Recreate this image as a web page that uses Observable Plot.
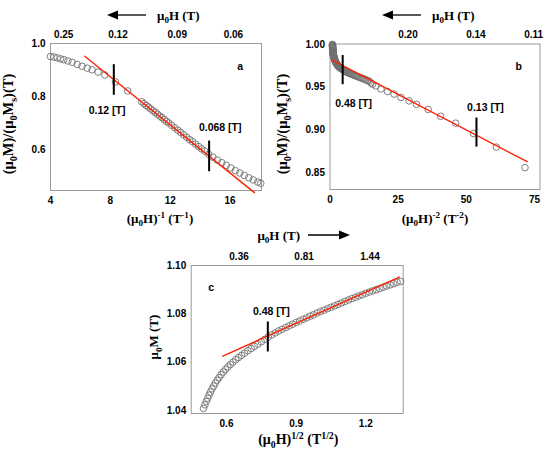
<!DOCTYPE html>
<html>
<head>
<meta charset="utf-8">
<script src="https://cdn.jsdelivr.net/npm/d3@7"></script>
<script src="https://cdn.jsdelivr.net/npm/@observablehq/plot@0.6"></script>
<style>
  html, body { margin: 0; padding: 0; background: white; }
  #wrap { position: relative; width: 550px; height: 454px; background: white; overflow: hidden; }
  #wrap svg { position: absolute; overflow: visible; background: transparent; }
</style>
</head>
<body>
<div id="wrap"></div>
<script>
// ---------- Panel a : M/Ms vs 1/H ----------
const aX = [4.0, 4.23, 4.45, 4.67, 4.89, 5.16, 5.45, 5.78, 6.11, 6.45, 6.78, 7.18, 7.63, 8.34, 9.16,
  10.1, 10.25, 10.4, 10.55, 10.7, 10.85, 11.0, 11.15, 11.3, 11.45, 11.6, 11.75, 11.9, 12.1, 12.3, 12.5,
  12.7, 12.9, 13.1, 13.3, 13.5, 13.7, 13.9, 14.1, 14.3, 14.56, 14.85, 15.15, 15.45, 15.75, 16.05, 16.35,
  16.65, 16.95, 17.25, 17.55, 17.85, 18.05];
const aY = [0.951, 0.9487, 0.946, 0.942, 0.939, 0.934, 0.929, 0.921, 0.914, 0.907, 0.901, 0.892, 0.881, 0.855, 0.821,
  0.78, 0.773, 0.766, 0.76, 0.753, 0.746, 0.74, 0.733, 0.726, 0.72, 0.713, 0.706, 0.70, 0.691, 0.682, 0.673,
  0.664, 0.655, 0.646, 0.637, 0.629, 0.62, 0.611, 0.602, 0.594, 0.582, 0.571, 0.56, 0.55, 0.54, 0.53, 0.52,
  0.511, 0.502, 0.493, 0.485, 0.477, 0.472];
const aFitX = [6.29, 17.63];
const aFitY = [0.952, 0.437];
const aMarkX = [8.23, 14.6];
const aMarkY1 = [0.92, 0.6316];
const aMarkY2 = [0.8045, 0.516];
const aNoteX = [7.78, 15.34, 16.67];
const aNoteY = [0.748, 0.683, 0.9135];
const aNoteT = ["0.12 [T]", "0.068 [T]", "a"];
const aXTicks = [4, 8, 12, 16];
const aYTicks = [0.6, 0.8, 1.0];
const aTopPos = [4.88, 8.51, 12.47, 16.22];
const aTopLab = ["0.25", "0.12", "0.09", "0.06"];

// ---------- Panel b : M/Ms vs 1/H^2 ----------
const bX = [0.9, 0.91, 0.92, 0.93, 0.94, 0.95, 0.96, 0.97, 0.98, 0.99,
  1.0, 1.01, 1.02, 1.035, 1.05, 1.065, 1.08, 1.095, 1.11, 1.13,
  1.15, 1.17, 1.19, 1.215, 1.24, 1.27, 1.3, 1.335, 1.37, 1.41,
  1.45, 1.5, 1.55, 1.6, 1.66, 1.73, 1.8, 1.87, 1.95, 2.03,
  2.12, 2.21, 2.3, 2.4, 2.5, 2.61, 2.72, 2.84, 2.96, 3.09,
  3.22, 3.36, 3.5, 3.66, 3.82, 4.0, 4.17, 4.36, 4.55, 4.76,
  4.97, 5.2, 5.43, 5.68, 5.93, 6.2, 6.48, 6.78, 7.08, 7.4,
  7.74, 8.1, 8.46, 8.85, 9.25, 9.67, 10.1, 10.57, 11.05, 11.57,
  12.1, 12.65, 13.2, 13.8, 14.4, 15.0, 15.6,
  16.8, 18.7, 21.1, 23.5, 26.0, 29.0, 31.7, 36.0, 40.6, 46.1, 52.6, 61.0, 71.5];
const bY = [1.000, 0.9995, 0.999, 0.9985, 0.998, 0.9975, 0.997, 0.9965, 0.996, 0.9955,
  0.995, 0.9945, 0.994, 0.9935, 0.993, 0.9925, 0.992, 0.9915, 0.991, 0.9905,
  0.990, 0.9895, 0.989, 0.9885, 0.988, 0.9875, 0.987, 0.9865, 0.986, 0.9855,
  0.985, 0.9845, 0.984, 0.9835, 0.983, 0.9823, 0.9815, 0.9808, 0.980, 0.9795,
  0.979, 0.9785, 0.978, 0.9775, 0.977, 0.9765, 0.976, 0.9755, 0.975, 0.9745,
  0.974, 0.9737, 0.9733, 0.9729, 0.9725, 0.9721, 0.9717, 0.9714, 0.971, 0.9705,
  0.970, 0.9695, 0.969, 0.9685, 0.968, 0.9676, 0.9672, 0.9668, 0.9664, 0.966,
  0.9655, 0.965, 0.9646, 0.9641, 0.9636, 0.963, 0.9625, 0.9619, 0.9613, 0.9607,
  0.960, 0.9593, 0.9585, 0.9578, 0.957, 0.955, 0.9535,
  0.9515, 0.948, 0.945, 0.942, 0.938, 0.934, 0.930, 0.924, 0.916, 0.908, 0.896, 0.880, 0.856];
const bFitX = [0.8, 72.3];
const bFitY = [0.9816, 0.863];
const bMarkX = [4.65, 53.7];
const bMarkY1 = [0.987, 0.914];
const bMarkY2 = [0.953, 0.880];
const bNoteX = [8.66, 57.0, 69.2];
const bNoteY = [0.9314, 0.9267, 0.9742];
const bNoteT = ["0.48 [T]", "0.13 [T]", "b"];
const bXTicks = [0, 25, 50, 75];
const bYTicks = [0.85, 0.90, 0.95, 1.00];
const bTopPos = [28.6, 53.5, 74.7];
const bTopLab = ["0.20", "0.14", "0.11"];

// ---------- Panel c : M vs H^(1/2) ----------
const cX = [0.501, 0.507, 0.513, 0.519, 0.525, 0.531, 0.538, 0.545, 0.552, 0.56, 0.568, 0.577, 0.586, 0.596,
  0.606, 0.617, 0.628, 0.64, 0.652, 0.665, 0.678, 0.692, 0.706, 0.72, 0.735, 0.75, 0.765, 0.78,
  0.795, 0.81, 0.825, 0.84, 0.855, 0.87, 0.885, 0.9, 0.915, 0.93, 0.945, 0.96, 0.975, 0.99, 1.005,
  1.02, 1.035, 1.05, 1.065, 1.08, 1.095, 1.11, 1.125, 1.14, 1.155, 1.17, 1.185, 1.2, 1.215, 1.23,
  1.245, 1.26, 1.275, 1.29, 1.305, 1.32, 1.335, 1.35];
const cY = [1.0408, 1.0423, 1.0437, 1.0450, 1.0463, 1.0476, 1.0489, 1.0501, 1.0513, 1.0525, 1.0536, 1.0548, 1.0559, 1.0570,
  1.0580, 1.0590, 1.0600, 1.0610, 1.0619, 1.0628, 1.0637, 1.0647, 1.0656, 1.0665, 1.0674, 1.0684, 1.0694, 1.0704,
  1.0713, 1.0721, 1.0729, 1.0736, 1.0743, 1.0750, 1.0757, 1.0764, 1.0770, 1.0777, 1.0783, 1.0790, 1.0796, 1.0803, 1.0809,
  1.0815, 1.0821, 1.0827, 1.0833, 1.0839, 1.0845, 1.0851, 1.0857, 1.0863, 1.0868, 1.0874, 1.0879, 1.0885, 1.0890, 1.0895,
  1.0900, 1.0905, 1.0910, 1.0915, 1.0920, 1.0925, 1.0930, 1.0934];
const cFitX = [0.584, 1.344];
const cFitY = [1.0625, 1.0952];
const cMarkX = [0.778];
const cMarkY1 = [1.0766];
const cMarkY2 = [1.0642];
const cNoteX = [0.793, 0.5345];
const cNoteY = [1.0807, 1.091];
const cNoteT = ["0.48 [T]", "c"];
const cXTicks = [0.6, 0.9, 1.2];
const cYTicks = [1.04, 1.06, 1.08, 1.10];
const cTopPos = [0.654, 0.934, 1.218];
const cTopLab = ["0.36", "0.81", "1.44"];

// ---------- helpers ----------
const SANS = "'Liberation Sans', Arial, Helvetica, sans-serif";
const SERIF = "'Liberation Serif', 'Times New Roman', serif";
const zip = (xs, ys) => xs.map((x, i) => ({x, y: ys[i]}));
const rules = (xs, y1, y2) => xs.map((x, i) => ({x, y1: y1[i], y2: y2[i]}));
const notes = (xs, ys, ts) => xs.map((x, i) => ({x, y: ys[i], t: ts[i]}));

function panel(o) {
  return Plot.plot({
    width: o.width, height: o.height,
    marginLeft: o.ml, marginRight: o.mr, marginTop: o.mt, marginBottom: o.mb,
    x: {domain: o.xd}, y: {domain: o.yd},
    style: {fontFamily: SANS, fontSize: "10px", fontWeight: "bold", background: "transparent", overflow: "visible", color: "black"},
    marks: [
      Plot.frame({stroke: "#9a9a9a", strokeWidth: 1}),
      Plot.axisX({anchor: "bottom", ticks: o.xt, tickSize: 0, tickPadding: 6, label: null, fontWeight: "bold", fontSize: 10, fill: "black"}),
      Plot.axisX({anchor: "top", ticks: o.tp, tickSize: 0, tickPadding: 6, label: null, fontWeight: "bold", fontSize: 10, fill: "black",
        tickFormat: d => o.tl[o.tp.indexOf(d)]}),
      Plot.axisY({anchor: "left", ticks: o.yt, tickSize: 0, tickPadding: 5, label: null, fontWeight: "bold", fontSize: 10, fill: "black",
        tickFormat: d => d.toFixed(o.yf)}),
      Plot.dot(o.pts, {x: "x", y: "y", r: 3.3, stroke: "#707070", strokeWidth: 0.9, fill: "none"}),
      Plot.line(o.fit, {x: "x", y: "y", stroke: "#ff2000", strokeWidth: 1.4}),
      Plot.ruleX(o.marks, {x: "x", y1: "y1", y2: "y2", stroke: "black", strokeWidth: 2}),
      Plot.text(o.notes, {x: "x", y: "y", text: "t", fontSize: 10.5, fontWeight: "bold", fill: "black", fontFamily: SANS})
    ]
  });
}

function rich(svg, x, y, parts, rot = 0, anchor = "middle", size = 13) {
  const t = d3.select(svg).append("text")
    .attr("transform", `translate(${x},${y}) rotate(${rot})`)
    .attr("text-anchor", anchor)
    .attr("font-family", SERIF)
    .attr("font-weight", "bold")
    .attr("font-size", size)
    .attr("fill", "black");
  let shift = 0;
  for (const [s, k] of parts) {
    const target = k === "sub" ? size * 0.28 : k === "sup" ? -size * 0.38 : 0;
    const ts = t.append("tspan").text(s).attr("font-size", k ? size * 0.7 : size);
    if (target !== shift) ts.attr("dy", target - shift);
    shift = target;
  }
}

function arrow(svg, xHead, xTail, y) {
  const g = d3.select(svg).append("g");
  const dir = xTail > xHead ? 1 : -1;
  g.append("line").attr("x1", xHead + dir * 9).attr("x2", xTail).attr("y1", y).attr("y2", y)
    .attr("stroke", "black").attr("stroke-width", 1.3);
  g.append("path")
    .attr("d", `M${xHead},${y}L${xHead + dir * 11},${y - 4.5}L${xHead + dir * 11},${y + 4.5}Z`)
    .attr("fill", "black");
}

const wrap = document.getElementById("wrap");

// Panel a
const svgA = panel({
  width: 275, height: 225, ml: 50, mr: 14, mt: 43, mb: 35,
  xd: [4, 18.1], yd: [0.445, 1.0], xt: aXTicks, yt: aYTicks, yf: 1, tp: aTopPos, tl: aTopLab,
  pts: zip(aX, aY), fit: zip(aFitX, aFitY), marks: rules(aMarkX, aMarkY1, aMarkY2), notes: notes(aNoteX, aNoteY, aNoteT)
});
svgA.style.left = "0px"; svgA.style.top = "0px";
wrap.appendChild(svgA);
arrow(svgA, 107, 146, 15);
rich(svgA, 157, 19.5, [["μ"], ["0", "sub"], ["H (T)"]], 0, "start");
rich(svgA, 160, 222.5, [["(μ"], ["0", "sub"], ["H)"], ["-1", "sup"], [" (T"], ["-1", "sup"], [")"]]);
rich(svgA, 12.5, 124, [["(μ"], ["0", "sub"], ["M)/(μ"], ["0", "sub"], ["M"], ["s", "sub"], [")(T)"]], -90, "middle", 14.5);

// Panel b
const svgB = panel({
  width: 275, height: 225, ml: 54.5, mr: 10.5, mt: 43.5, mb: 36,
  xd: [0, 77], yd: [0.8305, 1.0005], xt: bXTicks, yt: bYTicks, yf: 2, tp: bTopPos, tl: bTopLab,
  pts: zip(bX, bY), fit: zip(bFitX, bFitY), marks: rules(bMarkX, bMarkY1, bMarkY2), notes: notes(bNoteX, bNoteY, bNoteT)
});
svgB.style.left = "275px"; svgB.style.top = "0px";
wrap.appendChild(svgB);
arrow(svgB, 107, 146, 15);
rich(svgB, 157, 19.5, [["μ"], ["0", "sub"], ["H (T)"]], 0, "start");
rich(svgB, 160, 222.5, [["(μ"], ["0", "sub"], ["H)"], ["-2", "sup"], [" (T"], ["-2", "sup"], [")"]]);
rich(svgB, 12, 124, [["(μ"], ["0", "sub"], ["M)/(μ"], ["0", "sub"], ["M"], ["s", "sub"], [")(T)"]], -90, "middle", 14.5);

// Panel c
const svgC = panel({
  width: 270, height: 229, ml: 40.7, mr: 17.3, mt: 40, mb: 41,
  xd: [0.448, 1.361], yd: [1.0387, 1.1], xt: cXTicks, yt: cYTicks, yf: 2, tp: cTopPos, tl: cTopLab,
  pts: zip(cX, cY), fit: zip(cFitX, cFitY), marks: rules(cMarkX, cMarkY1, cMarkY2), notes: notes(cNoteX, cNoteY, cNoteT)
});
svgC.style.left = "150px"; svgC.style.top = "225px";
wrap.appendChild(svgC);
arrow(svgC, 200, 158, 10);
rich(svgC, 128.7, 14.5, [["μ"], ["0", "sub"], ["H (T)"]]);
rich(svgC, 148.3, 219, [["(μ"], ["0", "sub"], ["H)"], ["1/2", "sup"], [" (T"], ["1/2", "sup"], [")"]], 0, "middle", 14);
rich(svgC, 8, 112, [["μ"], ["0", "sub"], ["M (T)"]], -90);
</script>
</body>
</html>
